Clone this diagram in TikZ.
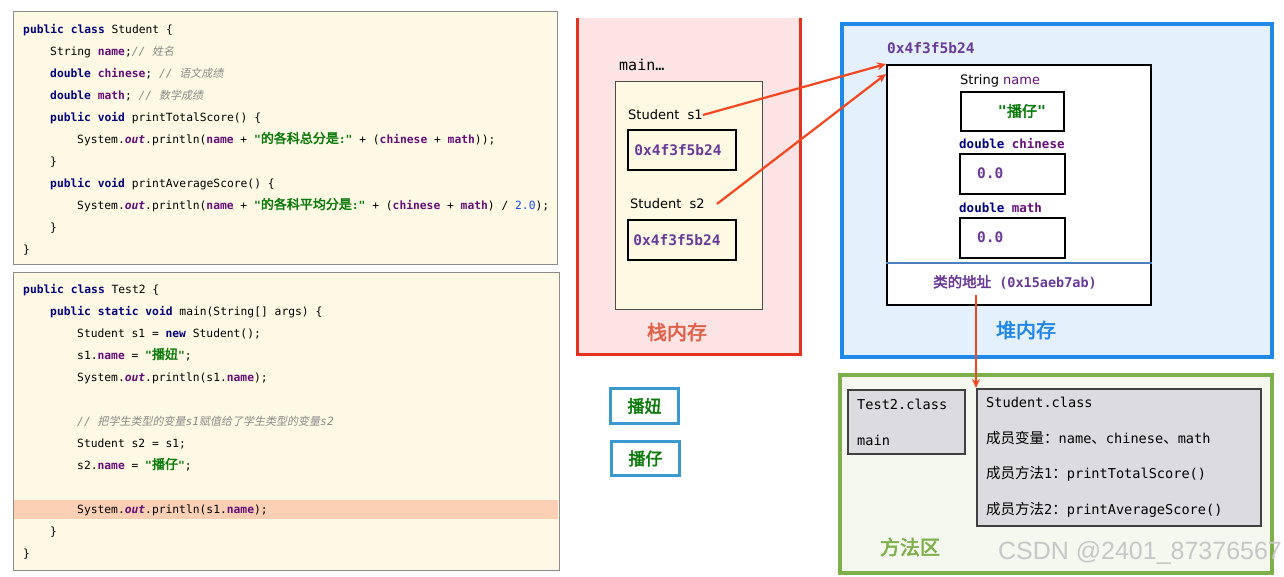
\documentclass[tikz,border=0pt]{standalone}
\usepackage{fontspec}
\setmonofont{DejaVu Sans Mono}
\setsansfont{DejaVu Sans}
\newfontfamily\zhfont{Noto Sans CJK SC}[AutoFakeBold=2.5,AutoFakeSlant=0.2]
\newfontfamily\wmfont{Liberation Sans}
\usetikzlibrary{arrows.meta}
\definecolor{kwc}{HTML}{000080}
\definecolor{fdc}{HTML}{660E7A}
\definecolor{stc}{HTML}{0A7A0A}
\definecolor{cmc}{HTML}{8A8A8A}
\definecolor{nmc}{HTML}{1750EB}
\definecolor{codefill}{HTML}{FEF9E4}
\definecolor{codeborder}{HTML}{8C8C8C}
\definecolor{hlc}{HTML}{FCD0B4}
\definecolor{stackred}{HTML}{E5321E}
\definecolor{stackfill}{HTML}{FDE4E4}
\definecolor{stacktxt}{HTML}{E0604A}
\definecolor{framefill}{HTML}{FEF9E2}
\definecolor{heapblue}{HTML}{2088E8}
\definecolor{heapfill}{HTML}{E4F0FC}
\definecolor{methgreen}{HTML}{7DB04A}
\definecolor{methfill}{HTML}{F4F8EE}
\definecolor{graybox}{HTML}{DBDBE0}
\definecolor{arrowred}{HTML}{F5471F}
\definecolor{smallblue}{HTML}{3A9AD0}
\definecolor{addrpurple}{HTML}{6A3A9A}
\definecolor{seplineblue}{HTML}{4A7FC0}
\newcommand\kw[1]{{\bfseries\color{kwc}#1}}
\newcommand\fd[1]{{\bfseries\color{fdc}#1}}
\newcommand\outk{{\bfseries\itshape\color{fdc}out}}
\newcommand\st[1]{{\bfseries\color{stc}#1}}
\newcommand\cmt[1]{{\itshape\color{cmc}#1}}
\newcommand\nm[1]{{\color{nmc}#1}}
\newcommand\zhc[1]{{\zhfont\fontsize{13}{13}\selectfont#1}}
\newcommand\zhcm[1]{{\zhfont\fontsize{11}{12}\selectfont#1}}
\newcommand\zhm[1]{{\zhfont\fontsize{14.5}{15}\selectfont#1}}
\newcommand\zh[1]{{\zhfont#1}}
\tikzset{
  code/.style={anchor=west, inner sep=0pt, font=\ttfamily\fontsize{11.3}{12}\selectfont, text height=8pt, text depth=2pt},
  codebox/.style={anchor=north west, inner sep=0pt, fill=codefill, draw=codeborder, line width=1.2pt},
  panel/.style={anchor=north west, inner sep=0pt},
  valbox/.style={anchor=north west, inner sep=0pt, draw=black, line width=2pt},
  graycell/.style={anchor=north west, inner sep=0pt, fill=graybox, draw=black!75, line width=1.5pt},
  lbl/.style={anchor=west, inner sep=0pt, font=\sffamily\fontsize{13}{15}\selectfont},
  addr/.style={inner sep=0pt, font=\ttfamily\bfseries\fontsize{14.5}{16}\selectfont, text=addrpurple},
  mtxt/.style={anchor=west, inner sep=0pt, font=\ttfamily\fontsize{13.6}{15}\selectfont},
  title/.style={inner sep=0pt, font=\zhfont\bfseries\fontsize{20}{22}\selectfont},
  redarrow/.style={draw=arrowred, line width=2.2pt, -{Stealth[length=9pt,width=8pt]}},
  smallbox/.style={anchor=north west, inner sep=0pt, draw=smallblue, line width=3pt, fill=white, text=stc, font=\zhfont\bfseries\fontsize{17}{19}\selectfont}
}
\begin{document}
\begin{tikzpicture}[x=1pt,y=-1pt]
\useasboundingbox[fill=white] (0,0) rectangle (1284,576);

% ---------- code box 1 ----------
\node[codebox, minimum width=544, minimum height=253] (cb1) at (13,11) {};
\node[code] (a1) at (23,30) {\kw{public class} Student \{};
\node[code] (a2) at (50,52) {String \fd{name};\cmt{// \zhcm{姓名}}};
\node[code] (a3) at (50,74) {\kw{double} \fd{chinese}; \cmt{// \zhcm{语文成绩}}};
\node[code] (a4) at (50,96) {\kw{double} \fd{math}; \cmt{// \zhcm{数学成绩}}};
\node[code] (a5) at (50,118) {\kw{public void} printTotalScore() \{};
\node[code] (a6) at (77,140) {System.\outk.println(\fd{name} + \st{"\zhc{的各科总分是}:"} + (\fd{chinese} + \fd{math}));};
\node[code] (a7) at (50,162) {\}};
\node[code] (a8) at (50,184) {\kw{public void} printAverageScore() \{};
\node[code] (a9) at (77,206) {System.\outk.println(\fd{name} + \st{"\zhc{的各科平均分是}:"} + (\fd{chinese} + \fd{math}) / \nm{2.0});};
\node[code] (a10) at (50,228) {\}};
\node[code] (a11) at (23,250) {\}};

% ---------- code box 2 ----------
\node[codebox, minimum width=546, minimum height=298] (cb2) at (13,272) {};
\node[panel, fill=hlc, minimum width=544, minimum height=19] (hl) at (14,500) {};
\node[code] (b1) at (23,290) {\kw{public class} Test2 \{};
\node[code] (b2) at (50,312) {\kw{public static void} main(String[] args) \{};
\node[code] (b3) at (77,334) {Student s1 = \kw{new} Student();};
\node[code] (b4) at (77,356) {s1.\fd{name} = \st{"\zhc{播妞}"};};
\node[code] (b5) at (77,378) {System.\outk.println(s1.\fd{name});};
\node[code] (b6) at (77,422) {\cmt{// \zhcm{把学生类型的变量}s1\zhcm{赋值给了学生类型的变量}s2}};
\node[code] (b7) at (77,444) {Student s2 = s1;};
\node[code] (b8) at (77,466) {s2.\fd{name} = \st{"\zhc{播仔}"};};
\node[code] (b9) at (77,510) {System.\outk.println(s1.\fd{name});};
\node[code] (b10) at (50,532) {\}};
\node[code] (b11) at (23,554) {\}};

% ---------- stack ----------
\node[panel, fill=stackfill, minimum width=223, minimum height=336] (stack) at (577,18) {};
\draw[stackred, line width=3pt] (stack.north west) -- (stack.south west) -- (stack.south east) -- (stack.north east);
\node[anchor=west, inner sep=0pt, font=\ttfamily\fontsize{15}{17}\selectfont] (mainlbl) at (619,65) {main…};
\node[panel, fill=framefill, draw=black!70, line width=1.3pt, minimum width=147, minimum height=228] (frame) at (615,81) {};
\node[lbl] (s1lbl) at (628,115) {Student\ \ s1};
\node[valbox, fill=framefill, minimum width=108, minimum height=40] (s1box) at (627,129) {};
\node[addr] (s1val) at ([xshift=-4pt]s1box.center) {0x4f3f5b24};
\node[lbl] (s2lbl) at (630,204) {Student\ \ s2};
\node[valbox, fill=framefill, minimum width=108, minimum height=40] (s2box) at (627,219) {};
\node[addr] (s2val) at ([xshift=-5pt]s2box.center) {0x4f3f5b24};
\node[title, text=stacktxt] (stacktitle) at (677,332) {栈内存};

% ---------- heap ----------
\node[panel, fill=heapfill, draw=heapblue, line width=3.5pt, minimum width=430, minimum height=333] (heap) at (840,22) {};
\node[addr, anchor=west] (heapaddr) at (887,48) {0x4f3f5b24};
\node[panel, fill=white, draw=black, line width=2pt, minimum width=264, minimum height=240] (obj) at (886,64) {};
\node[lbl] (namelbl) at (960,81) {String {\color{fdc}name}};
\node[valbox, minimum width=103, minimum height=39] (namebox) at (960,91) {};
\node[inner sep=0pt, font=\ttfamily\bfseries\fontsize{15}{17}\selectfont, text=stc] (nameval) at (1022,111) {"\zh{播仔}"};
\node[anchor=west, inner sep=0pt, font=\ttfamily\bfseries\fontsize{12.5}{14}\selectfont] (chlbl) at (959,144) {{\color{kwc}double} {\color{fdc}chinese}};
\node[valbox, minimum width=105, minimum height=40] (chbox) at (959,153) {};
\node[addr, anchor=west] (chval) at (977,173) {0.0};
\node[anchor=west, inner sep=0pt, font=\ttfamily\bfseries\fontsize{12.5}{14}\selectfont] (mathlbl) at (959,208) {{\color{kwc}double} {\color{fdc}math}};
\node[valbox, minimum width=105, minimum height=40] (mathbox) at (959,217) {};
\node[addr, anchor=west] (mathval) at (977,237) {0.0};
\draw[seplineblue, line width=2pt] ([yshift=-199pt]obj.north west) -- ([yshift=-199pt]obj.north east);
\node[inner sep=0pt, font=\ttfamily\bfseries\fontsize{13.5}{15}\selectfont, text=addrpurple] (addrlbl) at (1015,282) {\zh{\fontsize{14.5}{15}\selectfont 类的地址}\ (0x15aeb7ab)};
\node[title, text=heapblue] (heaptitle) at (1026,330) {堆内存};

% ---------- method area ----------
\node[panel, fill=methfill, draw=methgreen, line width=3.5pt, minimum width=432, minimum height=198] (meth) at (838,373) {};
\node[graycell, minimum width=117, minimum height=64] (t2box) at (847,389) {};
\node[mtxt] (t2a) at (857,404) {Test2.class};
\node[mtxt] (t2b) at (857,440) {main};
\node[graycell, minimum width=284, minimum height=137] (stu) at (976,388) {};
\node[mtxt] (su1) at (986,402) {Student.class};
\node[mtxt] (su2) at (986,438) {\zhm{成员变量：}name\zhm{、}chinese\zhm{、}math};
\node[mtxt] (su3) at (986,474) {\zhm{成员方法}1\zhm{：}printTotalScore()};
\node[mtxt] (su4) at (986,510) {\zhm{成员方法}2\zhm{：}printAverageScore()};
\node[title, text=methgreen] (methtitle) at (910,547) {方法区};
\node[inner sep=0pt, font=\wmfont\fontsize{25}{27}\selectfont, text=black!22] (wm) at (1140,553) {CSDN @2401\_87376567};

% ---------- small boxes ----------
\node[smallbox, minimum width=68, minimum height=35] (bn1) at (609,387) {播妞};
\node[smallbox, minimum width=68, minimum height=34] (bn2) at (610,440) {播仔};

% ---------- arrows ----------
\draw[redarrow] (s1lbl.east) -- (obj.north west);
\draw[redarrow] ([xshift=12pt]s2lbl.east) -- ([yshift=-10pt]obj.north west);
\draw[redarrow] ([yshift=-6pt]addrlbl.south -| stu.north west) -- (stu.north west);
\end{tikzpicture}
\end{document}
